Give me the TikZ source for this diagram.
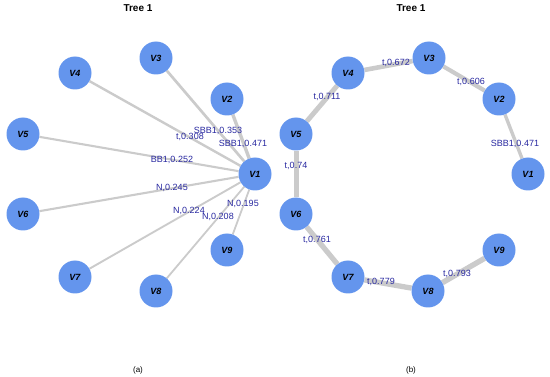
\documentclass[tikz,border=0pt]{standalone}
\usepackage{fontspec}
\setmainfont{Liberation Sans}
\usepackage{xcolor}
\usepackage{tikz}
\usetikzlibrary{positioning,backgrounds}
\definecolor{vblue}{RGB}{100,149,237}
\definecolor{egray}{RGB}{203,203,203}
\definecolor{lblue}{RGB}{40,40,160}

\begin{document}
\begin{tikzpicture}[x=1pt, y=-1pt,
  vert/.style={circle, fill=vblue, minimum size=33pt, inner sep=0pt, font=\fontsize{9}{10}\selectfont\bfseries\itshape},
  edge/.style={draw=egray, line width=#1},
  elab/.style={text=lblue, inner sep=0.5pt, font=\fontsize{9}{10}\selectfont},
  ttl/.style={font=\fontsize{10}{12}\selectfont\bfseries},
  subcap/.style={font=\fontsize{8}{10}\selectfont},
]
\useasboundingbox (0,0) rectangle (550,377);
% (a) star around V1
\node[vert] (a1) at (255,174) {V1};
\node[vert] (a2) at (227,99)  {V2};
\node[vert] (a3) at (156,58)  {V3};
\node[vert] (a4) at (75,73)   {V4};
\node[vert] (a5) at (23,134)  {V5};
\node[vert] (a6) at (23,214)  {V6};
\node[vert] (a7) at (75,277)  {V7};
\node[vert] (a8) at (156,291) {V8};
\node[vert] (a9) at (227,250) {V9};
\begin{scope}[on background layer]
\draw[edge=3.4pt] (a1) -- (a2);
\draw[edge=2.7pt] (a1) -- (a3);
\draw[edge=2.4pt] (a1) -- (a4);
\draw[edge=2.1pt] (a1) -- (a5);
\draw[edge=2.1pt] (a1) -- (a6);
\draw[edge=1.9pt] (a1) -- (a7);
\draw[edge=1.8pt] (a1) -- (a8);
\draw[edge=1.8pt] (a1) -- (a9);
\end{scope}
\node[elab] (la2) at (243,144) {SBB1,0.471};
\node[elab] (la3) at (218,131) {SBB1,0.353};
\node[elab] (la4) at (190,137) {t,0.308};
\node[elab] (la5) at (172,160) {BB1,0.252};
\node[elab] (la6) at (172,188) {N,0.245};
\node[elab] (la7) at (189,211) {N,0.224};
\node[elab] (la8) at (218,217) {N,0.208};
\node[elab] (la9) at (243,204) {N,0.195};
\node[ttl] (ta) at (138,8) {Tree 1};
\node[subcap] (ca) at (138,370) {(a)};
% (b) path
\node[vert] (b1) at (528,174) {V1};
\node[vert] (b2) at (499,99)  {V2};
\node[vert] (b3) at (429,58)  {V3};
\node[vert] (b4) at (348,73)  {V4};
\node[vert] (b5) at (296,134) {V5};
\node[vert] (b6) at (296,214) {V6};
\node[vert] (b7) at (348,277) {V7};
\node[vert] (b8) at (428,291) {V8};
\node[vert] (b9) at (499,250) {V9};
\begin{scope}[on background layer]
\draw[edge=3.4pt] (b1) -- (b2);
\draw[edge=4.2pt] (b2) -- (b3);
\draw[edge=4.6pt] (b3) -- (b4);
\draw[edge=4.9pt] (b4) -- (b5);
\draw[edge=5.0pt] (b5) -- (b6);
\draw[edge=5.2pt] (b6) -- (b7);
\draw[edge=5.3pt] (b7) -- (b8);
\draw[edge=5.4pt] (b8) -- (b9);
\end{scope}
\node[elab] (lb12) at (515,144) {SBB1,0.471};
\node[elab] (lb23) at (471,82)  {t,0.606};
\node[elab] (lb34) at (396,63)  {t,0.672};
\node[elab] (lb45) at (327,97)  {t,0.711};
\node[elab] (lb56) at (296,166) {t,0.74};
\node[elab] (lb67) at (317,240) {t,0.761};
\node[elab] (lb78) at (381,282) {t,0.779};
\node[elab] (lb89) at (457,274) {t,0.793};
\node[ttl] (tb) at (411,8) {Tree 1};
\node[subcap] (cb) at (411,370) {(b)};
\end{tikzpicture}
\end{document}
